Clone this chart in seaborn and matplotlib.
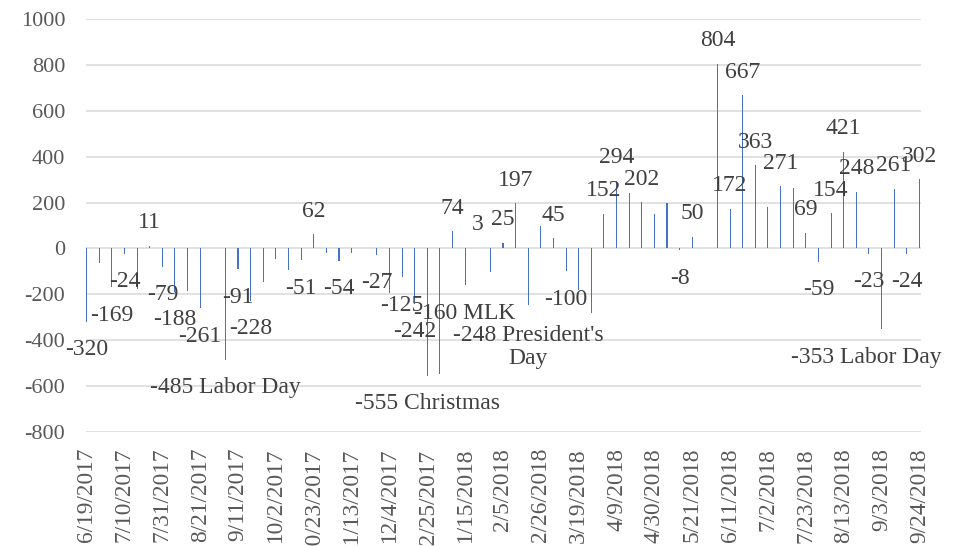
import matplotlib
matplotlib.use("Agg")
import matplotlib.pyplot as plt
import seaborn as sns
import pandas as pd

# ---- data -------------------------------------------------------------
weeks = pd.date_range("2017-06-19", periods=67, freq="7D")
week_labels = [f"{d.month}/{d.day}/{d.year}" for d in weeks]

values = [
    -320, -62, -169, -24, -175, 11, -79, -188, -185, -261,
    0, -485, -91, -228, -145, -44, -92, -51, 62, -22,
    -54, -19, 0, -27, -193, -125, -242, -555, -547, 74,
    -160, 3, -102, 25, 197, -248, 99, 45, -100, -182,
    -283, 152, 294, 240, 202, 152, 196, -8, 50, 0,
    804, 172, 667, 363, 181, 271, 262, 69, -59, 154,
    421, 248, -23, -353, 261, -24, 302,
]

# data-label text for the weeks that carry one (week label -> text)
label_weeks = [
    "6/19/2017", "7/3/2017", "7/10/2017", "7/24/2017", "7/31/2017", "8/7/2017",
    "8/21/2017", "9/4/2017", "9/11/2017", "9/18/2017", "10/16/2017", "10/23/2017",
    "11/6/2017", "11/27/2017", "12/11/2017", "12/18/2017", "12/25/2017", "1/8/2018",
    "1/15/2018", "1/22/2018", "2/5/2018", "2/12/2018", "2/19/2018", "3/5/2018",
    "3/12/2018", "4/2/2018", "4/9/2018", "4/23/2018", "5/14/2018", "5/21/2018",
    "6/4/2018", "6/11/2018", "6/18/2018", "6/25/2018", "7/9/2018", "7/23/2018",
    "7/30/2018", "8/6/2018", "8/13/2018", "8/20/2018", "8/27/2018", "9/3/2018",
    "9/10/2018", "9/17/2018", "9/24/2018",
]
label_texts = [
    "-320", "-169", "-24", "11", "-79", "-188",
    "-261", "-485 Labor Day", "-91", "-228", "-51", "62",
    "-54", "-27", "-125", "-242", "-555 Christmas", "74",
    "-160 MLK", "3", "25", "197", "-248 President's\nDay", "45",
    "-100", "152", "294", "202", "-8", "50",
    "804", "172", "667", "363", "271", "69",
    "-59", "154", "421", "248", "-23", "-353 Labor Day",
    "261", "-24", "302",
]

y_ticks = list(range(-800, 1001, 200))
x_tick_labels = week_labels[::3]

# ---- style ------------------------------------------------------------
sns.set_theme(style="white")
plt.rcParams["font.family"] = ["Liberation Serif", "DejaVu Serif"]

W, H = 959, 546
fig = plt.figure(figsize=(W / 100, H / 100), dpi=100)
ax = fig.add_axes([86 / W, 1 - 432 / H, (921 - 86) / W, (432 - 19) / H])

df = pd.DataFrame({"week": week_labels, "value": values})
sns.barplot(data=df, x="week", y="value", color="#4472C4", saturation=1,
            width=0.085, linewidth=0, ax=ax, zorder=3)

ax.set_xlim(-0.05, 66.13)
ax.set_ylim(-800, 1000)
ax.set_yticks(y_ticks)
ax.set_yticklabels([str(t) for t in y_ticks])
ax.set_xticks(range(0, len(week_labels), 3))
ax.set_xticklabels(x_tick_labels, rotation=90, ha="center", va="top")
ax.set_xlabel("")
ax.set_ylabel("")

ax.yaxis.grid(True, color="#D9D9D9", linewidth=1.1)
ax.xaxis.grid(False)
ax.set_axisbelow(True)
for s in ax.spines.values():
    s.set_visible(False)

ax.tick_params(axis="y", length=0, labelsize=16, labelcolor="#595959", pad=15)
ax.tick_params(axis="x", length=0, labelsize=16.8, labelcolor="#595959", pad=11.5)

# ---- data labels ------------------------------------------------------
idx_of = {w: i for i, w in enumerate(week_labels)}
annots = []
for w, txt in zip(label_weeks, label_texts):
    i = idx_of[w]
    v = values[i]
    nlines = txt.count("\n") + 1
    if v >= 0:
        off = 23
    else:
        off = -28 - (nlines - 1) * 13.5
    a = ax.annotate(txt, (i, v), xytext=(0, off), textcoords="offset pixels",
                    ha="center", va="center", fontsize=17, color="#404040",
                    linespacing=1.1, zorder=5)
    annots.append((a, off))

# keep labels inside the chart area (as the spreadsheet does)
fig.canvas.draw()
r = fig.canvas.get_renderer()
for a, off in annots:
    bb = a.get_window_extent(r)
    if bb.x1 > W - 17:
        a.xyann = (-(bb.x1 - (W - 17)), off)

fig.savefig("out.png", dpi=100)
